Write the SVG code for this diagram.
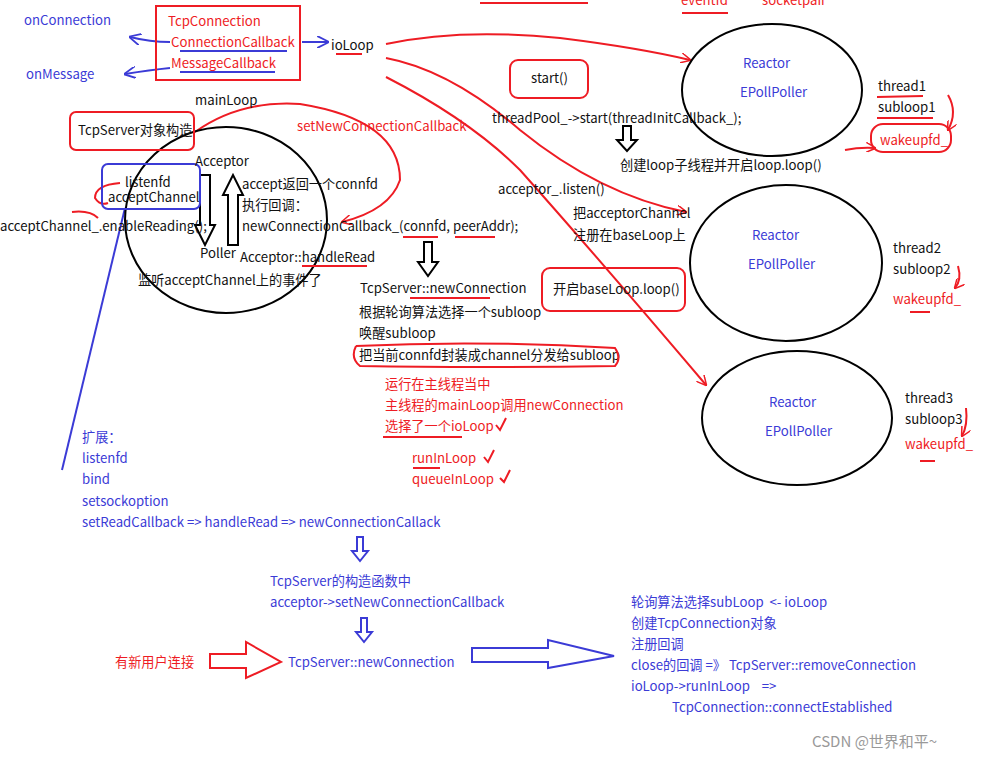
<svg xmlns="http://www.w3.org/2000/svg" width="985" height="760" viewBox="0 0 985 760">
<defs>
<style>
text{font-family:"Microsoft YaHei","Noto Sans CJK SC","Noto Sans",sans-serif;font-size:13.2px;fill:#111;white-space:pre}
.b{fill:#3b3bd6}.r{fill:#ee1c24}.g{fill:#999;font-size:15px}
.rs{fill:none;stroke:#ee1c24;stroke-width:2}
.bs{fill:none;stroke:#3b3bd6;stroke-width:2}
.ks{fill:none;stroke:#000;stroke-width:2}
.ho{fill:#fff;stroke:#000;stroke-width:2}
</style>
<marker id="ar" viewBox="0 0 10 10" refX="9" refY="5" markerWidth="10" markerHeight="10" orient="auto" markerUnits="userSpaceOnUse"><path d="M0,0 L10,5 L0,10" fill="none" stroke="#ee1c24" stroke-width="1.5"/></marker>
<marker id="ab" viewBox="0 0 10 10" refX="9" refY="5" markerWidth="12" markerHeight="12" orient="auto" markerUnits="userSpaceOnUse"><path d="M0,0 L10,5 L0,10" fill="none" stroke="#3b3bd6" stroke-width="1.5"/></marker>
</defs>
<rect width="985" height="760" fill="#fff"/>

<g id="connectors">
<line x1="480" y1="3" x2="588" y2="3" class="rs"/>
<path d="M170,42 Q150,42 130,37" class="bs" marker-end="url(#ab)"/>
<path d="M170,68 Q150,70 125,74" class="bs" marker-end="url(#ab)"/>
<line x1="302" y1="42" x2="328" y2="42" class="bs" marker-end="url(#ab)"/>
<path d="M386,44 Q460,28 560,38 Q640,48 690,60" class="rs" marker-end="url(#ar)"/>
<path d="M386,58 Q450,70 520,130 Q600,195 686,212" class="rs" marker-end="url(#ar)"/>
<path d="M386,77 Q470,120 520,170 Q600,260 706,385" class="rs" marker-end="url(#ar)"/>
<path d="M195,132 Q240,100 300,104 Q400,120 400,180 Q390,210 342,222" class="rs" marker-end="url(#ar)"/>
<path d="M120,183 Q95,185 95,198 Q100,206 108,203" class="rs"/>
<path d="M72,212 Q90,210 98,218" class="rs"/>
<line x1="125" y1="208" x2="62" y2="470" class="bs"/>
<path d="M948,95 Q958,112 948,130" class="rs" marker-end="url(#ar)"/>
<path d="M845,150 Q860,147 875,148" class="rs" marker-end="url(#ar)"/>
<path d="M958,266 Q962,280 955,288" class="rs" marker-end="url(#ar)"/>
<path d="M966,408 Q968,425 962,436" class="rs" marker-end="url(#ar)"/>
<polygon points="200,175 210,175 210,225 215,225 205,245 195,225 200,225" class="ho"/>
<polygon points="228,245 238,245 238,195 243,195 233,175 223,195 228,195" class="ho"/>
<polygon points="424,242 432,242 432,262 438,262 428,276 418,262 424,262" class="ho"/>
<polygon points="623,126 631,126 631,140 637,140 627,151 617,140 623,140" class="ho"/>
<polygon points="357,537 363,537 363,551 368,551 360,561 352,551 357,551" fill="#fff" stroke="#3b3bd6" stroke-width="2"/>
<polygon points="361,618 367,618 367,632 372,632 364,642 356,632 361,632" fill="#fff" stroke="#3b3bd6" stroke-width="2"/>
<polygon points="210,654 246,654 246,642 281,662 246,678 246,668 210,668" fill="#fff" stroke="#ee1c24" stroke-width="2"/>
<polygon points="472,648 548,648 548,640 614,656 548,668 548,662 472,662" fill="#fff" stroke="#3b3bd6" stroke-width="2"/>
</g>

<g id="tcpconnection">
<rect x="156" y="6" width="144" height="74" class="rs"/>
<text x="168" y="26" class="r">TcpConnection</text>
<text x="171" y="47" class="r">ConnectionCallback</text>
<text x="171" y="68" class="r">MessageCallback</text>
<line x1="180" y1="51" x2="287" y2="51" class="bs" stroke-width="1.2"/>
<line x1="180" y1="72" x2="275" y2="72" class="bs" stroke-width="1.2"/>
</g>
<g id="callbacks">
<text x="24" y="25" class="b">onConnection</text>
<text x="26" y="79" class="b">onMessage</text>
<text x="331" y="50">ioLoop</text>
<line x1="336" y1="54" x2="362" y2="54" class="rs"/>
</g>

<g id="acceptor">
<ellipse cx="226" cy="220" rx="101" ry="93" class="ks"/>
<rect x="70" y="112" width="124" height="38" rx="6" class="rs"/>
<text x="78" y="135">TcpServer对象构造</text>
<text x="195" y="105">mainLoop</text>
<rect x="102" y="164" width="98" height="45" rx="6" class="bs"/>
<text x="125" y="187">listenfd</text>
<text x="108" y="202">acceptChannel</text>
<text x="0" y="231">acceptChannel_.enableReading();</text>
<text x="195" y="166">Acceptor</text>
<text x="200" y="258">Poller</text>
<text x="242" y="189">accept返回一个connfd</text>
<text x="242" y="210">执行回调：</text>
<text x="242" y="231">newConnectionCallback_(connfd, peerAddr);</text>
<line x1="403" y1="237" x2="438" y2="237" class="rs"/>
<line x1="455" y1="237" x2="495" y2="237" class="rs"/>
<text x="240" y="262">Acceptor::handleRead</text>
<line x1="302" y1="266" x2="367" y2="266" class="rs"/>
<text x="138" y="285">监听acceptChannel上的事件了</text>
<text x="297" y="131" class="r">setNewConnectionCallback</text>
</g>

<g id="newconnection">
<text x="360" y="293">TcpServer::newConnection</text>
<line x1="410" y1="298" x2="490" y2="298" class="rs"/>
<text x="359" y="317">根据轮询算法选择一个subloop</text>
<text x="359" y="338">唤醒subloop</text>
<text x="359" y="360">把当前connfd封装成channel分发给subloop</text>
<path d="M356,346 Q480,340 615,348 Q622,358 615,366 Q480,368 360,366 Q350,358 356,346" class="rs" stroke-width="1.5"/>
<text x="385" y="389" class="r">运行在主线程当中</text>
<text x="385" y="410" class="r">主线程的mainLoop调用newConnection</text>
<text x="385" y="431" class="r">选择了一个ioLoop</text>
<line x1="383" y1="437" x2="462" y2="437" class="rs"/>
<path d="M496,425 L500,430 L506,418" class="rs"/>
<text x="412" y="463" class="r">runInLoop</text>
<line x1="413" y1="468" x2="440" y2="468" class="rs"/>
<path d="M484,457 L488,462 L494,450" class="rs"/>
<text x="412" y="484" class="r">queueInLoop</text>
<path d="M500,478 L504,482 L510,470" class="rs"/>
</g>

<g id="baseloop">
<rect x="542" y="268" width="143" height="43" rx="8" class="rs"/>
<text x="553" y="294">开启baseLoop.loop()</text>
<rect x="510" y="60" width="78" height="38" rx="8" class="rs"/>
<text x="531" y="83">start()</text>
<text x="492" y="123">threadPool_-&gt;start(threadInitCallback_);</text>
<text x="620" y="170">创建loop子线程并开启loop.loop()</text>
<text x="498" y="194">acceptor_.listen()</text>
<text x="573" y="218">把acceptorChannel</text>
<text x="573" y="240">注册在baseLoop上</text>
<text x="681" y="5" class="r">eventfd</text>
<line x1="682" y1="13" x2="728" y2="13" class="rs"/>
<text x="762" y="5" class="r">socketpair</text>
</g>

<g id="reactor1">
<ellipse cx="772" cy="90" rx="90" ry="66" class="ks"/>
<text x="743" y="68" class="b">Reactor</text>
<text x="740" y="97" class="b">EPollPoller</text>
<text x="878" y="91">thread1</text>
<line x1="877" y1="97" x2="923" y2="96" class="rs"/>
<text x="878" y="112">subloop1</text>
<line x1="877" y1="118" x2="933" y2="118" class="rs"/>
<rect x="871" y="124" width="80" height="28" rx="12" class="rs" stroke-width="1.5"/>
<text x="880" y="145" class="r">wakeupfd_</text>
</g>
<g id="reactor2">
<ellipse cx="786" cy="263" rx="96" ry="78" class="ks"/>
<text x="752" y="240" class="b">Reactor</text>
<text x="748" y="269" class="b">EPollPoller</text>
<text x="893" y="253">thread2</text>
<text x="893" y="274">subloop2</text>
<text x="893" y="304" class="r">wakeupfd_</text>
<line x1="910" y1="312" x2="930" y2="312" class="rs"/>
</g>
<g id="reactor3">
<ellipse cx="797" cy="418" rx="95" ry="67" class="ks"/>
<text x="769" y="407" class="b">Reactor</text>
<text x="765" y="436" class="b">EPollPoller</text>
<text x="905" y="403">thread3</text>
<text x="905" y="424">subloop3</text>
<text x="905" y="449" class="r">wakeupfd_</text>
<line x1="920" y1="461" x2="935" y2="461" class="rs"/>
</g>

<g id="extension">
<text x="82" y="442" class="b">扩展：</text>
<text x="82" y="463" class="b">listenfd</text>
<text x="82" y="484" class="b">bind</text>
<text x="82" y="506" class="b">setsockoption</text>
<text x="82" y="527" class="b">setReadCallback =&gt; handleRead =&gt; newConnectionCallack</text>
<text x="270" y="586" class="b">TcpServer的构造函数中</text>
<text x="270" y="607" class="b">acceptor-&gt;setNewConnectionCallback</text>
<text x="115" y="667" class="r">有新用户连接</text>
<text x="288" y="667" class="b">TcpServer::newConnection</text>
<text x="631" y="607" class="b">轮询算法选择subLoop  &lt;- ioLoop</text>
<text x="631" y="628" class="b">创建TcpConnection对象</text>
<text x="631" y="649" class="b">注册回调</text>
<text x="631" y="670" class="b">close的回调 =》 TcpServer::removeConnection</text>
<text x="631" y="691" class="b">ioLoop-&gt;runInLoop    =&gt;</text>
<text x="672" y="712" class="b">TcpConnection::connectEstablished</text>
<text x="812" y="747" class="g">CSDN @世界和平~</text>
</g>
</svg>
